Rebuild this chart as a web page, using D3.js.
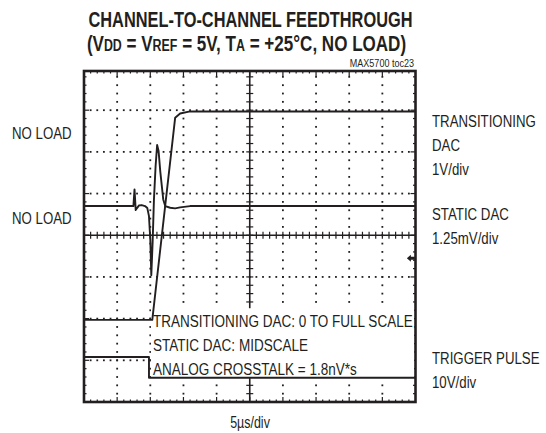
<!DOCTYPE html>
<html>
<head>
<meta charset="utf-8">
<script src="https://cdn.jsdelivr.net/npm/d3@7"></script>
<style>
  body { margin: 0; background: #fff; }
  text { font-family: "Liberation Sans Narrow", "Arial Narrow", "Liberation Sans", sans-serif; fill: #231f20; }
</style>
</head>
<body>
<div class="viz"></div>
<script>
// time axis: 5us/div, 10 div -> 0..50 us from left edge
// transitioning DAC, volts (1V/div)
const transTime  = [0, 10.3, 13.75, 14.5, 16, 50];
const transVolts = [0, 0, 4.85, 4.95, 5.0, 5.0];

// static DAC, deviation from midscale in mV (1.25mV/div)
const staticTime = [0, 7.45, 7.62, 7.8, 8.0, 8.3, 8.7, 9.2, 9.55, 9.8, 10.0, 10.15, 10.35, 10.55, 10.8, 11.03, 11.25, 11.5, 11.95, 12.25, 13.0, 13.75, 14.5, 16, 50];
const staticMv   = [0, 0, 0.5, -0.12, -0.06, 0.02, 0.03, 0.0, -0.06, -0.3, -1.0, -2.07, -1.1, 0.2, 1.2, 1.83, 1.65, 1.05, 0.2, 0.0, -0.05, -0.07, -0.04, 0, 0];

// trigger pulse, volts (10V/div)
const trigTime  = [0, 9.8, 9.8, 50];
const trigVolts = [5, 5, 0, 0];

const leftLabels  = ["NO LOAD", "NO LOAD"];
const rightLabels = [["TRANSITIONING", "DAC", "1V/div"], ["STATIC DAC", "1.25mV/div"], ["TRIGGER PULSE", "10V/div"]];
const noteLines = ["TRANSITIONING DAC: 0 TO FULL SCALE", "STATIC DAC: MIDSCALE", "ANALOG CROSSTALK = 1.8nV*s"];

const width = 546, height = 433;
const svg = d3.select('.viz').append('svg')
  .attr('width', width)
  .attr('height', height);

// screen scales, in divisions
const x = d3.scaleLinear([0, 50], [84, 415.5]);
const yDiv = d3.scaleLinear([-4, 4], [402, 68.5]);
const xd = v => x(v * 5);

// channel offsets (divisions) and scale factors (div per unit)
const transY  = v => yDiv(-2.03 + v / 1);
const staticY = v => yDiv(0.7 + v / 1.25);
const trigY   = v => yDiv(-3.42 + v / 10);

const frameTop = 71, frameBottom = yDiv(-4);
const ink = '#231f20';

const g = svg.append('g');

// grid dots
const dots = [];
for (let i = 1; i < 10; i++) {
  if (i === 5) continue;
  for (let k = -19; k <= 19; k++) dots.push([xd(i), yDiv(k / 5)]);
}
for (let j = -3; j <= 3; j++) {
  if (j === 0) continue;
  for (let k = 1; k < 50; k++) dots.push([xd(k / 5), yDiv(j)]);
}
g.append('g').selectAll('rect').data(dots).join('rect')
  .attr('x', d => d[0] - 0.9).attr('y', d => d[1] - 0.9)
  .attr('width', 1.8).attr('height', 1.8).attr('fill', ink);

// center axes with minor ticks
const axisG = g.append('g').attr('stroke', ink);
axisG.append('line').attr('x1', x(0)).attr('x2', x(50)).attr('y1', yDiv(0)).attr('y2', yDiv(0)).attr('stroke-width', 1.6);
axisG.append('line').attr('x1', xd(5)).attr('x2', xd(5)).attr('y1', frameTop).attr('y2', frameBottom).attr('stroke-width', 1.6);
axisG.selectAll('.hx').data(d3.range(1, 50)).join('line')
  .attr('x1', d => xd(d / 5)).attr('x2', d => xd(d / 5))
  .attr('y1', yDiv(0) - 3.5).attr('y2', yDiv(0) + 3.5).attr('stroke-width', 1.2);
axisG.selectAll('.vy').data(d3.range(-19, 20)).join('line')
  .attr('y1', d => yDiv(d / 5)).attr('y2', d => yDiv(d / 5))
  .attr('x1', xd(5) - 3.5).attr('x2', xd(5) + 3.5).attr('stroke-width', 1.2);

// edge ticks
const edge = g.append('g').attr('stroke', ink).attr('stroke-width', 1.2);
d3.range(1, 50).forEach(k => {
  const len = k % 5 === 0 ? 5 : 2.5;
  edge.append('line').attr('x1', xd(k / 5)).attr('x2', xd(k / 5)).attr('y1', frameTop).attr('y2', frameTop + len);
  edge.append('line').attr('x1', xd(k / 5)).attr('x2', xd(k / 5)).attr('y1', frameBottom).attr('y2', frameBottom - len);
});
d3.range(-19, 20).forEach(k => {
  const len = k % 5 === 0 ? 5 : 2.5;
  edge.append('line').attr('y1', yDiv(k / 5)).attr('y2', yDiv(k / 5)).attr('x1', x(0)).attr('x2', x(0) + len);
  edge.append('line').attr('y1', yDiv(k / 5)).attr('y2', yDiv(k / 5)).attr('x1', x(50)).attr('x2', x(50) - len);
});

// note box
g.append('rect')
  .attr('x', xd(2.02)).attr('y', yDiv(-1.75))
  .attr('width', x(50) - xd(2.02) - 1.5).attr('height', trigY(0) - yDiv(-1.75))
  .attr('fill', '#fff');

// frame
g.append('rect')
  .attr('x', x(0)).attr('y', frameTop)
  .attr('width', x(50) - x(0)).attr('height', frameBottom - frameTop)
  .attr('fill', 'none').attr('stroke', ink).attr('stroke-width', 2.6);

// traces
const line = (xs, ys, fy) => d3.line().x((d, i) => x(xs[i])).y((d, i) => fy(ys[i]))(xs);
const traces = g.append('g').attr('fill', 'none').attr('stroke', ink).attr('stroke-width', 1.9).attr('stroke-linejoin', 'round');
traces.append('path').attr('d', line(transTime, transVolts, transY));
traces.append('path').attr('d', line(staticTime, staticMv, staticY));
traces.append('path').attr('d', line(trigTime, trigVolts, trigY));

// ground marker arrow
const ax = x(49.15), ay = yDiv(-0.55);
g.append('path')
  .attr('d', `M${ax - 3},${ay} l4,-3.5 v2 h4 v3 h-4 v2 z`)
  .attr('fill', ink);

// condensed text: scale glyphs horizontally
const sx = 0.78;
const txt = (tx, ty, s, size, opts = {}) => {
  const t = svg.append('text')
    .attr('transform', `translate(${tx},${ty}) scale(${opts.sx || sx},1)`)
    .attr('font-size', size)
    .attr('text-anchor', opts.anchor || 'start')
    .attr('font-weight', opts.bold ? 'bold' : 'normal')
    .text(s);
  return t;
};

txt(250.5, 27, 'CHANNEL-TO-CHANNEL FEEDTHROUGH', 22, {anchor: 'middle', bold: true, sx: 0.745});
const t2 = svg.append('text')
  .attr('transform', `translate(246.5,51) scale(0.775,1)`)
  .attr('text-anchor', 'middle')
  .attr('font-size', 22).attr('font-weight', 'bold');
[['(V', 22], ['DD', 16], [' = V', 22], ['REF', 16], [' = 5V, T', 22], ['A', 16], [' = +25°C, NO LOAD)', 22]]
  .forEach(([s, sz]) => t2.append('tspan').attr('font-size', sz).text(s));
txt(414, 66.5, 'MAX5700 toc23', 10.5, {anchor: 'end', sx: 0.86});

txt(12, 138.5, leftLabels[0], 17);
txt(12, 223.5, leftLabels[1], 17);

const rightY = [[126.5, 151, 175], [219.5, 243.5], [364, 388]];
rightLabels.forEach((grp, i) => grp.forEach((s, j) => txt(432, rightY[i][j], s, 17)));

const noteY = [326.5, 351, 374.5];
noteLines.forEach((s, i) => txt(153, noteY[i], s, 16.5, {sx: 0.82}));

txt(250, 428, '5µs/div', 16, {anchor: 'middle'});
</script>
</body>
</html>
